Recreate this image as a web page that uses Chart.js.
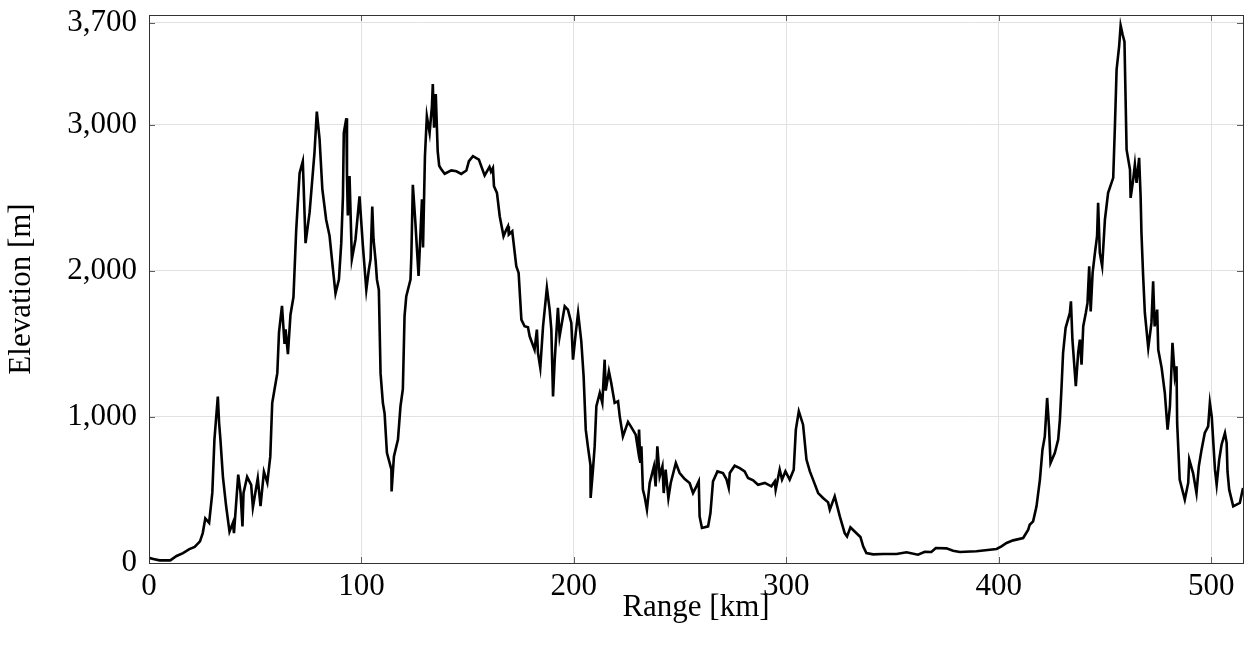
<!DOCTYPE html>
<html lang="en">
<head>
    <meta charset="UTF-8">
    <title>Elevation profile</title>
    <script src="https://cdn.jsdelivr.net/npm/chart.js@4.4.1/dist/chart.umd.min.js"></script>
    <style>
        body {
            margin: 0;
            background: white;
        }

        .chart-box {
            position: relative;
            width: 1251px;
            height: 656px;
        }
    </style>
</head>
<body>
    <div class="chart-box">
        <canvas id="profileChart"></canvas>
    </div>

    <script>
        // range along the track [km]
        const rangeKm = [
            0, 2, 5, 10, 13, 16, 19, 21.5, 24, 25.3, 26.5, 28.3, 29.8, 30.8, 32.4, 33, 33.6,
            34.8, 36.3, 37.9, 39.5, 40, 42, 43.1, 44, 44.5, 46.2, 48.1, 48.9, 51.2, 52.5, 54.1,
            55.7, 57.1, 58, 59.1, 60.4, 61.2, 62.6, 63.8, 64.3, 65.4, 66.6, 68, 69.3, 70.2, 70.9,
            72.4, 73.7, 75.6, 77.9, 79, 80.3, 81.6, 83.4, 85, 86.6, 87.8, 89.4, 90.5, 91.3, 91.7,
            92.9, 93.2, 93.6, 94.4, 95.5, 97.2, 99.1, 100.7, 102.3, 103.5, 104.3, 105.1, 105.7,
            106.7, 107.3, 108.2, 109, 110.1, 110.9, 112, 114.1, 114.2, 115.3, 117.2, 118.4, 119.5,
            120.3, 121.1, 122.3, 123.1, 123.5, 124.2, 125.4, 126.9, 128.5, 129, 129.9, 130.8,
            132.1, 133.2, 133.6, 134.2, 135, 135.9, 136.6, 137.6, 139.2, 142.3, 144.7, 147, 149.4,
            150.6, 152.5, 155.3, 156.4, 158, 160.3, 161, 161.9, 162.4, 163.8, 165.1, 166.9, 168.2,
            169, 169.4, 171, 172.9, 174, 175.3, 176.8, 178.4, 179.2, 181.5, 182.6, 183.1, 184.2,
            185.5, 187.3, 188.6, 189.4, 190.2, 191, 192.5, 193.3, 195.7, 197.2, 198.8, 199.6,
            200.9, 202, 203.5, 204.6, 205.6, 206.6, 207.8, 207.9, 209, 209.8, 210.6, 212.2, 213.4,
            214.5, 215, 216.5, 217.6, 219.2, 220.8, 221.6, 223.1, 225.5, 227.1, 229.1, 230.2,
            230.7, 231.3, 231.8, 232.5, 233.3, 234.4, 235.7, 236.5, 237.7, 238.5, 239.3, 240.4,
            241.7, 242.3, 243.2, 244.5, 245.6, 248, 249.8, 252.2, 254.5, 256.1, 257.7, 258.8,
            259.2, 260.3, 263.2, 264.3, 265.5, 267.6, 270.2, 271.8, 272.9, 273.4, 275.7, 278.1,
            280.4, 282, 284.4, 286.7, 289.9, 293, 294.6, 295, 296.9, 298, 299.6, 301.6, 303.5,
            304.5, 305.9, 307.9, 309.5, 311.1, 312.6, 315, 317.3, 319.7, 320.5, 322.8, 325.2,
            327.5, 328.6, 330.2, 332.2, 334.9, 336.2, 337.7, 340.9, 345.6, 351.9, 356.6, 362,
            365.2, 368.3, 370.4, 375.4, 378.5, 381.7, 389.5, 399, 401.3, 403.7, 406.8, 411.5,
            413.9, 414.6, 416.2, 417.8, 419.4, 420.6, 421.7, 422.8, 423.7, 424.4, 426.4, 428,
            428.8, 429.6, 430.3, 431.5, 433.5, 434, 434.7, 436.3, 437.4, 438.2, 439, 439.8, 441,
            441.8, 442.6, 443.3, 444.2, 445.3, 446.3, 446.8, 447.6, 448.7, 450, 451.5, 453.9,
            454.7, 455.5, 456.7, 457.4, 458.3, 459.2, 460.2, 461.8, 462.1, 463.3, 464.1, 464.9,
            466.1, 466.8, 467.2, 468, 468.8, 470.4, 471.9, 472.7, 473.4, 474.6, 475.1, 476.7,
            478.2, 479.5, 480.6, 481.8, 482.9, 483.7, 484, 485.2, 487.6, 489.2, 489.7, 491.5,
            493.1, 494.2, 495.5, 497, 498.6, 499.4, 500.3, 501.8, 502.6, 503.8, 504.9, 506.5,
            507.3, 507.7, 508.5, 510.4, 513.5, 515
        ];

        // terrain elevation [m]
        const elevationM = [
            35, 28, 18, 18, 48, 68, 95, 110, 148, 205, 305, 275, 480, 845, 1140, 960, 850,
            590, 390, 215, 275, 205, 605, 480, 250, 480, 590, 535, 380, 580, 390, 625,
            550, 730, 1095, 1190, 1300, 1580, 1760, 1500, 1600, 1430, 1700, 1820, 2280, 2500, 2670,
            2750, 2190, 2400, 2810, 3090, 2900, 2560, 2350, 2240, 2010, 1845, 1940, 2190, 2510, 2945,
            3045, 2650, 2380, 2650, 2080, 2215, 2510, 2170, 1870, 2010, 2080, 2440, 2215,
            2065, 1940, 1870, 1300, 1095, 1025, 755, 640, 490, 730, 845, 1075, 1190,
            1690, 1825, 1895, 1940, 2100, 2590, 2330, 1965, 2490, 2160, 2785, 3060,
            2945, 3130, 3280, 2980, 3210, 2820, 2720, 2695, 2665, 2688, 2682, 2664, 2687,
            2751, 2785, 2762, 2717, 2653, 2712, 2680, 2705, 2580, 2534, 2374, 2237, 2283,
            2306, 2249, 2271, 2032, 1986, 1666, 1621, 1614, 1552, 1461, 1598, 1438, 1336,
            1621, 1884, 1735, 1598, 1141, 1392, 1747, 1552, 1758, 1735, 1644, 1392,
            1575, 1712, 1518, 1278, 913, 799, 673, 445, 639, 800, 1073, 1164, 1096,
            1392, 1180, 1313, 1233, 1096, 1107, 1004, 867, 966, 929, 879, 776,
            913, 685, 799, 502, 456, 365, 548, 593, 662, 525, 799, 593,
            662, 479, 639, 445, 548, 685, 616, 575, 548, 479, 525, 559,
            319, 240, 251, 342, 559, 627, 616, 575, 514, 616, 666, 650,
            627, 582, 566, 536, 548, 525, 559, 502, 639, 571, 627, 571, 639,
            913, 1038, 947, 708, 627, 571, 479, 445, 415, 365, 456, 319,
            205, 182, 244, 216, 178, 114, 68, 59, 62, 62, 73, 57,
            77, 75, 103, 100, 84, 75, 80, 96, 114, 137, 155, 171,
            228, 262, 285, 388, 571, 776, 867, 1130, 925, 685, 753, 845,
            982, 1210, 1438, 1610, 1712, 1792, 1529, 1210, 1438, 1529, 1358, 1621, 1712,
            1781, 2032, 1723, 1986, 2123, 2237, 2466, 2123, 2032, 2351, 2534, 2637,
            2990, 3379, 3539, 3680, 3620, 3570, 2830, 2694, 2500, 2625, 2728, 2603,
            2774, 2511, 2260, 1963, 1712, 1473, 1644, 1929, 1620, 1735, 1461, 1336,
            1164, 913, 1073, 1507, 1278, 1347, 959, 571, 434, 548, 708, 616,
            479, 662, 776, 890, 936, 1096, 1000, 639, 536, 708, 810, 890,
            822, 627, 502, 388, 411, 514
        ];

        const xTicks = [0, 100, 200, 300, 400, 500];
        const yTicks = [0, 1000, 2000, 3000, 3700];

        const labelFont = { family: "'Liberation Serif', serif", size: 31 };

        // pgfplots style frame with small inward tick marks
        const framePlugin = {
            id: 'frame',
            afterDraw(chart) {
                const { ctx, chartArea: a, scales } = chart;
                ctx.save();
                ctx.strokeStyle = '#606060';
                ctx.lineWidth = 1;
                const len = 6;
                ctx.beginPath();
                yTicks.forEach(v => {
                    const py = Math.round(scales.y.getPixelForValue(v)) + 0.5;
                    ctx.moveTo(a.left, py);
                    ctx.lineTo(a.left + len, py);
                    ctx.moveTo(a.right, py);
                    ctx.lineTo(a.right - len, py);
                });
                xTicks.forEach(v => {
                    const px = Math.round(scales.x.getPixelForValue(v)) + 0.5;
                    ctx.moveTo(px, a.bottom);
                    ctx.lineTo(px, a.bottom - len);
                    ctx.moveTo(px, a.top);
                    ctx.lineTo(px, a.top + len);
                });
                ctx.stroke();
                ctx.strokeStyle = '#333333';
                ctx.strokeRect(Math.round(a.left) + 0.5, Math.round(a.top) + 0.5,
                    Math.round(a.right - a.left), Math.round(a.bottom - a.top));
                ctx.restore();
            }
        };

        const ctx = document.getElementById('profileChart').getContext('2d');
        new Chart(ctx, {
            type: 'line',
            data: {
                datasets: [{
                    data: rangeKm.map((x, i) => ({ x: x, y: elevationM[i] })),
                    borderColor: '#000000',
                    borderWidth: 2.6,
                    pointRadius: 0,
                    tension: 0,
                    fill: false
                }]
            },
            options: {
                responsive: true,
                maintainAspectRatio: false,
                animation: false,
                layout: { padding: { top: 15, right: 8, left: 0, bottom: 0 } },
                plugins: {
                    legend: { display: false },
                    tooltip: { enabled: false }
                },
                scales: {
                    x: {
                        type: 'linear',
                        min: 0,
                        max: 515,
                        afterBuildTicks: s => { s.ticks = xTicks.map(v => ({ value: v })); },
                        afterFit: s => {
                            s.height = 93;
                            s.paddingLeft = 0;
                            s.paddingRight = 0;
                        },
                        ticks: {
                            font: labelFont,
                            color: '#000',
                            padding: 5,
                            maxRotation: 0
                        },
                        grid: { color: '#e2e2e2', drawTicks: false },
                        border: { display: false },
                        title: {
                            display: true,
                            text: 'Range [km]',
                            font: labelFont,
                            color: '#000',
                            padding: { top: 0, bottom: 30 }
                        }
                    },
                    y: {
                        min: 0,
                        max: 3752,
                        afterBuildTicks: s => { s.ticks = yTicks.map(v => ({ value: v })); },
                        afterFit: s => {
                            s.width = 149;
                            s.paddingTop = 0;
                            s.paddingBottom = 0;
                        },
                        ticks: {
                            font: labelFont,
                            color: '#000',
                            padding: 12,
                            callback: v => v.toLocaleString('en-US')
                        },
                        grid: { color: '#e2e2e2', drawTicks: false },
                        border: { display: false },
                        title: {
                            display: true,
                            text: 'Elevation [m]',
                            font: labelFont,
                            color: '#000',
                            padding: { top: 3, bottom: 0 }
                        }
                    }
                }
            },
            plugins: [framePlugin]
        });
    </script>
</body>
</html>
